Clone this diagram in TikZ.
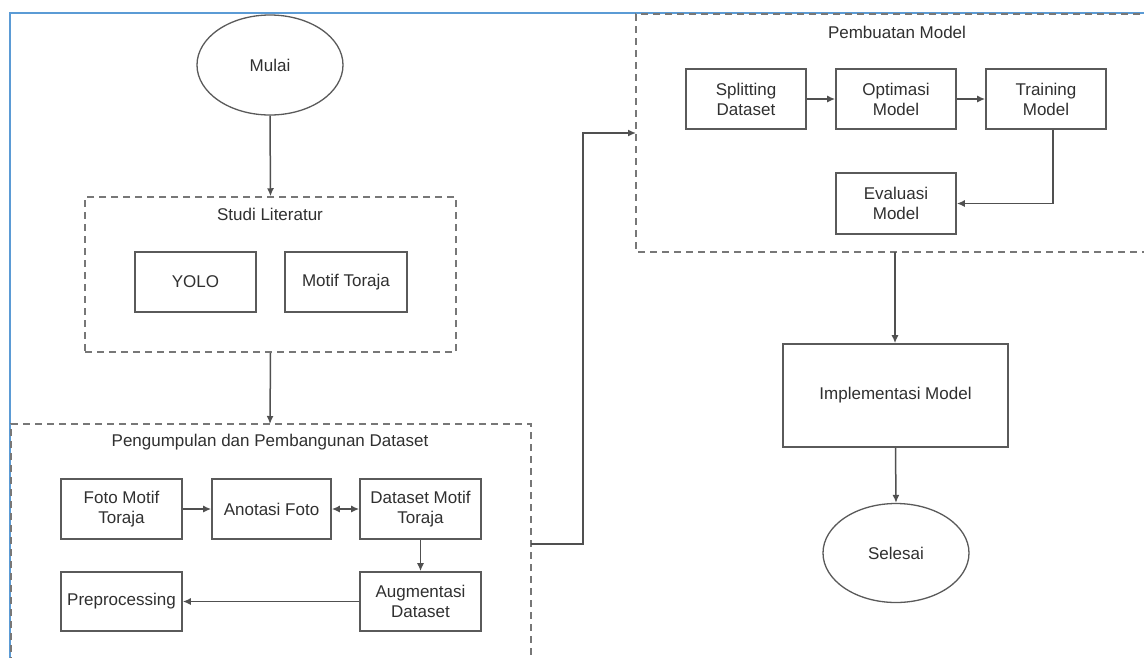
\documentclass[tikz,border=0pt]{standalone}
\usepackage{fontspec}
\setmainfont{Liberation Sans}
\usetikzlibrary{shapes.geometric,arrows.meta}
\definecolor{txt}{HTML}{303030}
\definecolor{boxline}{HTML}{5A5A5A}
\definecolor{dashline}{HTML}{777777}
\definecolor{conn}{HTML}{505050}
\definecolor{frameblue}{HTML}{5B9BD5}
\tikzset{
  every node/.style={font=\fontsize{17}{20}\selectfont, text=txt},
  procbox/.style={draw=boxline, line width=1.6pt, rectangle, align=center, inner sep=2pt},
  terminal/.style={draw=boxline, line width=1.3pt, ellipse, inner sep=0pt, minimum width=146pt, minimum height=100pt},
  groupbox/.style={draw=dashline, line width=1.5pt, dash pattern=on 7pt off 5pt},
  titletext/.style={inner sep=0pt},
  conn/.style={draw=conn, line width=1.5pt, -{Latex[length=8pt,width=7pt]}},
  biconn/.style={draw=conn, line width=1.5pt, {Latex[length=8pt,width=7pt]}-{Latex[length=8pt,width=7pt]}},
}
\begin{document}
\begin{tikzpicture}[x=1pt,y=-1pt]
\clip (0,0) rectangle (1144,657);
\fill[white] (0,0) rectangle (1144,657);
% blue frame
\draw[frameblue, line width=2.2pt] (10,700) -- (10,13) -- (1200,13);

% start
\node[terminal] (mulai) at (270,65) {Mulai};

% Studi Literatur
\node[groupbox, minimum width=371pt, minimum height=155pt] (studi) at (270.5,274.5) {};
\node[titletext] (studiT) at (270,214) {Studi Literatur};
\node[procbox, minimum width=121pt, minimum height=60pt] (yolo) at (195.5,282) {YOLO};
\node[procbox, minimum width=122pt, minimum height=60pt] (motif) at (346,282) {Motif Toraja};

% Pengumpulan dan Pembangunan Dataset
\draw[groupbox] (11,700) -- (11,424) -- (531,424) -- (531,700);
\coordinate (pengTop) at (270,424);
\coordinate (pengRight) at (531,544);
\node[titletext] (pengT) at (270,442) {Pengumpulan dan Pembangunan Dataset};
\node[procbox, minimum width=121pt, minimum height=60pt] (foto) at (121.5,509) {Foto Motif\\Toraja};
\node[procbox, minimum width=119pt, minimum height=60pt] (anotasi) at (271.5,509) {Anotasi Foto};
\node[procbox, minimum width=121pt, minimum height=60pt] (dataset) at (420.5,509) {Dataset Motif\\Toraja};
\node[procbox, minimum width=121pt, minimum height=59pt] (augment) at (420.5,601.5) {Augmentasi\\Dataset};
\node[procbox, minimum width=121pt, minimum height=59pt] (prep) at (121.5,601.5) {Preprocessing};

% Pembuatan Model
\draw[groupbox] (1200,14) -- (636,14) -- (636,252) -- (1200,252);
\coordinate (pembLeft) at (636,133);
\coordinate (pembBottom) at (895,252);
\node[titletext] (pembT) at (897,32) {Pembuatan Model};
\node[procbox, minimum width=120pt, minimum height=60pt] (split) at (746,99) {Splitting\\Dataset};
\node[procbox, minimum width=120pt, minimum height=60pt] (optim) at (896,99) {Optimasi\\Model};
\node[procbox, minimum width=120pt, minimum height=60pt] (train) at (1046,99) {Training\\Model};
\node[procbox, minimum width=120pt, minimum height=61pt] (eval) at (896,203.5) {Evaluasi\\Model};

% Implementasi & Selesai
\node[procbox, minimum width=225pt, minimum height=103pt] (impl) at (895.5,395.5) {Implementasi Model};
\node[terminal, minimum height=99pt] (selesai) at (896,553) {Selesai};

% connectors
\draw[conn] (mulai.south) -- (studi.north);
\draw[conn] (studi.south) -- (pengTop);
\draw[conn] (foto.east) -- (anotasi.west);
\draw[biconn] (anotasi.east) -- (dataset.west);
\draw[conn] (dataset.south) -- (augment.north);
\draw[conn] (augment.west) -- (prep.east);
\draw[conn] (pengRight) -- ++(52,0) |- (pembLeft);
\draw[conn] (split.east) -- (optim.west);
\draw[conn] (optim.east) -- (train.west);
\draw[conn] ([xshift=7pt]train.south) |- (eval.east);
\draw[conn] (pembBottom) -- (pembBottom |- impl.north);
\draw[conn] (impl.south) -- (selesai.north);
\end{tikzpicture}
\end{document}
